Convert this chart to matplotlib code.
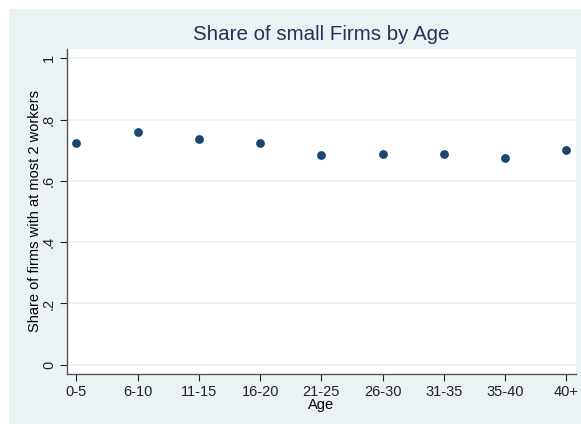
import matplotlib
matplotlib.use('Agg')
import matplotlib.pyplot as plt
from matplotlib.patches import Rectangle

# data
age_groups = ['0-5', '6-10', '11-15', '16-20', '21-25', '26-30', '31-35', '35-40', '40+']
share_small = [0.722, 0.758, 0.738, 0.724, 0.685, 0.688, 0.689, 0.675, 0.700]
y_ticks = [0, 0.2, 0.4, 0.6, 0.8, 1.0]
y_tick_labels = ['0', '.2', '.4', '.6', '.8', '1']

BG = '#eaf2f3'
NAVY = '#1a476f'
plt.rcParams['font.family'] = ['Liberation Sans', 'DejaVu Sans']

W, H = 581, 424
fig = plt.figure(figsize=(W / 100, H / 100), dpi=100)
fig.patch.set_facecolor('white')
fig.patches.append(Rectangle((9 / W, 0), 1 - 9 / W, 1 - 9 / H, transform=fig.transFigure,
                             facecolor=BG, edgecolor='none', zorder=-10))

ax = fig.add_axes([67 / W, 1 - 374 / H, (576 - 67) / W, (374 - 49) / H])
ax.set_facecolor('white')

x = list(range(1, len(age_groups) + 1))
ax.scatter(x, share_small, s=40, color=NAVY, zorder=3, linewidths=0)

ax.set_xlim(0.845, 9.16)
ax.set_ylim(-0.03, 1.03)
ax.set_xticks(x)
ax.set_xticklabels(age_groups, fontsize=10.5)
ax.set_yticks(y_ticks)
ax.set_yticklabels(y_tick_labels, fontsize=10.5, rotation=90, va='center')
ax.grid(axis='y', color=BG, linewidth=1.2)
ax.set_axisbelow(True)

for side in ['top', 'right']:
    ax.spines[side].set_visible(False)
for side in ['left', 'bottom']:
    ax.spines[side].set_color('#555555')
    ax.spines[side].set_linewidth(1.0)
ax.tick_params(colors='#222222', length=5, width=0.8, pad=3)

ax.set_xlabel('Age', fontsize=10.5, labelpad=-1)
ax.set_ylabel('Share of firms with at most 2 workers', fontsize=10.5, labelpad=0)
fig.text((67 + 576) / 2 / W, 1 - 35 / H, 'Share of small Firms by Age', fontsize=14.8,
         color='#253159', ha='center', va='center')

fig.savefig('out.png', dpi=100, facecolor=fig.get_facecolor())
